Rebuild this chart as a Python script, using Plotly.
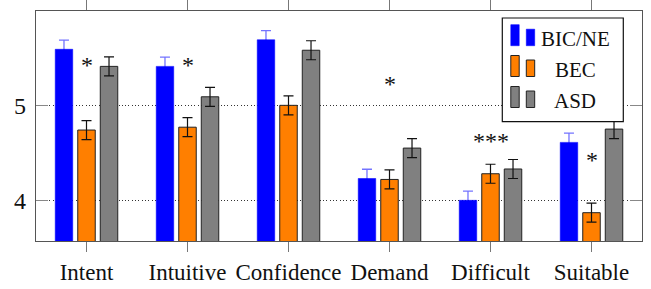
import plotly.graph_objects as go

categories = ["Intent", "Intuitive", "Confidence", "Demand", "Difficult", "Suitable"]
bic_ne = [5.59, 5.41, 5.69, 4.23, 4.00, 4.61]
bic_ne_err = [0.097, 0.097, 0.097, 0.097, 0.097, 0.097]
bec = [4.74, 4.77, 5.00, 4.22, 4.28, 3.87]
bec_err = [0.10, 0.10, 0.10, 0.10, 0.10, 0.10]
asd = [5.41, 5.09, 5.58, 4.55, 4.33, 4.75]
asd_err = [0.10, 0.10, 0.10, 0.10, 0.10, 0.10]
sig_labels = ["*", "*", "", "*", "***", "*"]
sig_y = [5.42, 5.42, None, 5.225, 4.62, 4.42]
series_names = ["BIC/NE", "BEC", "ASD"]

FONT = "Liberation Serif"
BLUE_EDGE = "rgba(0,0,255,0.55)"

fig = go.Figure()
fig.add_trace(go.Bar(
    x=categories, y=bic_ne, name=series_names[0],
    marker=dict(color="#0000ff", line=dict(color=BLUE_EDGE, width=1)),
    error_y=dict(type="data", array=bic_ne_err, color=BLUE_EDGE, thickness=1.3, width=5),
))
fig.add_trace(go.Bar(
    x=categories, y=bec, name=series_names[1],
    marker=dict(color="#ff7f00", line=dict(color="#222", width=1)),
    error_y=dict(type="data", array=bec_err, color="#111", thickness=1.2, width=5),
))
fig.add_trace(go.Bar(
    x=categories, y=asd, name=series_names[2],
    marker=dict(color="#808080", line=dict(color="#222", width=1)),
    error_y=dict(type="data", array=asd_err, color="#111", thickness=1.2, width=5),
))

for cat, lab, yy in zip(categories, sig_labels, sig_y):
    if lab:
        fig.add_annotation(x=cat, y=yy, text=lab, showarrow=False,
                           xref="x", yref="y", yanchor="middle",
                           font=dict(family=FONT, size=24, color="#111"))

# Plot area in pixels (for the hand-drawn pgfplots-style legend)
L, R, T, B = 36, 642, 11, 241
def px(xp):
    return (xp - L) / (R - L)
def py(yp):
    return (B - yp) / (B - T)

shapes = []
shapes.append(dict(type="rect", xref="paper", yref="paper",
                   x0=px(502.3), x1=px(623.3), y0=py(121.7), y1=py(18),
                   fillcolor="white", line=dict(color="#111", width=1.2), layer="above"))
legend_colors = [("#0000ff", BLUE_EDGE), ("#ff7f00", "#222"), ("#808080", "#222")]
row_bottoms = [45.7, 76.5, 107.5]
row_centers = [39.5, 70.5, 100.5]
for (fc, lc), yb, yc, name in zip(legend_colors, row_bottoms, row_centers, series_names):
    shapes.append(dict(type="rect", xref="paper", yref="paper",
                       x0=px(510.8), x1=px(519.2), y0=py(yb), y1=py(yb - 21),
                       fillcolor=fc, line=dict(color=lc, width=1), layer="above"))
    shapes.append(dict(type="rect", xref="paper", yref="paper",
                       x0=px(526.3), x1=px(534.7), y0=py(yb), y1=py(yb - 16.5),
                       fillcolor=fc, line=dict(color=lc, width=1), layer="above"))
    fig.add_annotation(x=px(575), y=py(yc), xref="paper", yref="paper",
                       text=name, showarrow=False, xanchor="center", yanchor="middle",
                       font=dict(family=FONT, size=21, color="#111"))

fig.update_layout(
    width=651, height=289,
    margin=dict(l=L, r=651 - R, t=T, b=289 - B, autoexpand=False),
    paper_bgcolor="white", plot_bgcolor="white",
    barmode="group", bargap=0.331, bargroupgap=0.224,
    showlegend=False,
    shapes=shapes,
    font=dict(family=FONT, size=23, color="#111"),
)
fig.update_xaxes(
    automargin=False,
    showline=True, linecolor="#555", linewidth=1.3, mirror="allticks",
    ticks="outside", ticklen=10, tickcolor="#777", tickwidth=1,
    showgrid=False, tickfont=dict(family=FONT, size=23, color="#111"),
)
fig.update_yaxes(
    automargin=False,
    range=[3.572, 5.993],
    showline=True, linecolor="#555", linewidth=1.3, mirror="allticks",
    ticks="inside", ticklen=12, tickcolor="#888", tickwidth=1,
    tickvals=[4, 5], ticktext=["4", "5"],
    showgrid=True, gridcolor="#333", gridwidth=1, griddash="1px,2.3px",
    zeroline=False, tickfont=dict(family=FONT, size=24, color="#111"),
    ticklabelstandoff=4,
)

fig.write_html("out.html", config={"displayModeBar": False},
               post_script="document.body.style.margin='0';document.body.style.padding='0';")
